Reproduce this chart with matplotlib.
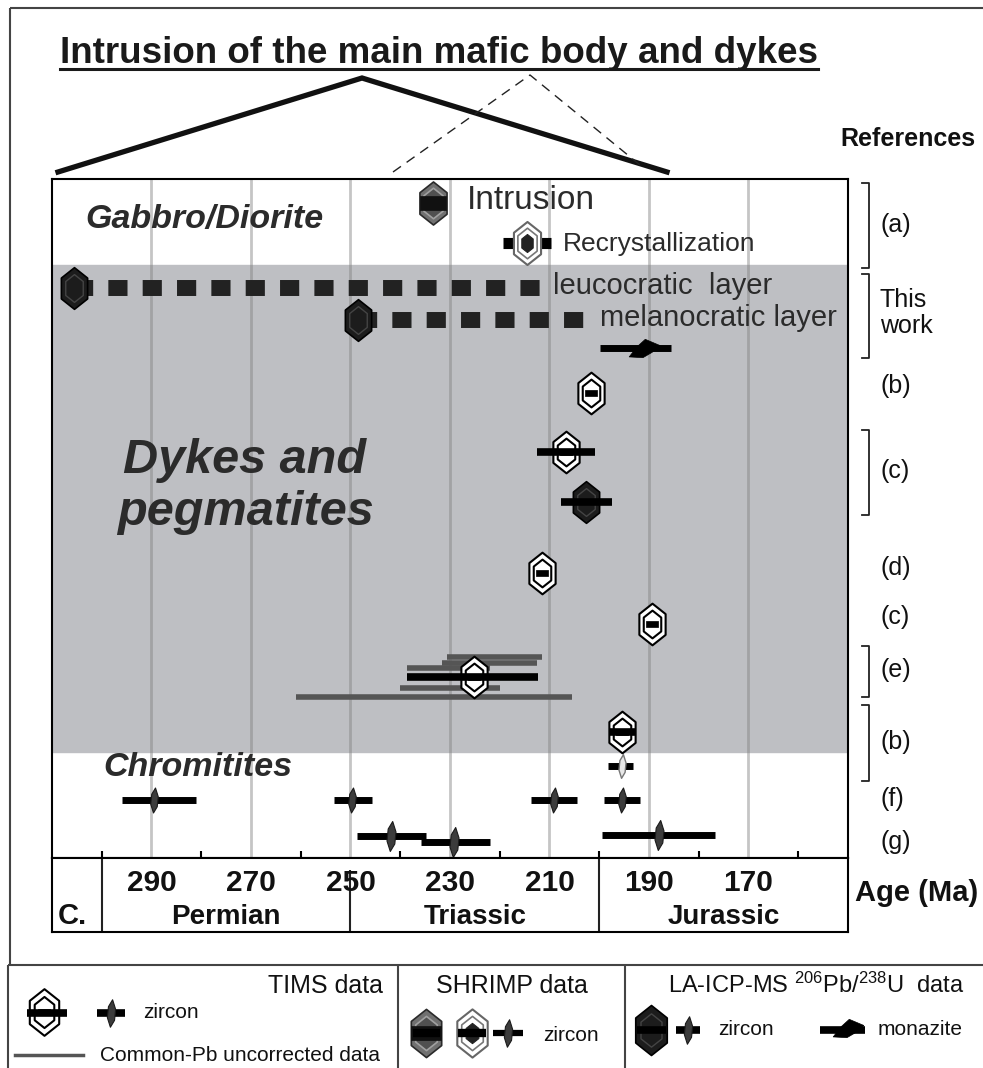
import matplotlib
matplotlib.use('Agg')
import matplotlib.pyplot as plt
from matplotlib.path import Path
import numpy as np

plt.rcParams['font.family'] = ['Liberation Sans', 'DejaVu Sans']
plt.rcParams['mathtext.default'] = 'regular'

# ---------------- data (ages in Ma) ----------------
age_ticks = [290, 270, 250, 230, 210, 190, 170]
minor_ticks = [300, 280, 260, 240, 220, 200, 180, 160]
periods = ['Permian', 'Triassic', 'Jurassic']
period_bounds = [300, 250, 200, 150]

# gabbro / diorite, SHRIMP zircon
shrimp_intrusion_age = 233.5
shrimp_recryst_age = 214.5
shrimp_recryst_range = [219.3, 209.7]

# this work, LA-ICP-MS zircon (leucocratic, melanocratic, ref c)
la_age = [305.5, 248.5, 202.7]
la_old = [np.nan, np.nan, 207.7]
la_young = [np.nan, np.nan, 197.4]
layer_labels = ['leucocratic  layer', 'melanocratic layer']

# this work, LA-ICP-MS monazite
monazite_age = 191.0
monazite_range = [199.8, 185.6]

# TIMS multi-grain zircon (b, c, d, c, e, b)
tims_age = [201.6, 206.7, 211.5, 189.4, 225.1, 195.4]
tims_old = [np.nan, 212.5, np.nan, np.nan, 238.6, 198.1]
tims_young = [np.nan, 200.8, np.nan, np.nan, 212.3, 192.8]

# TIMS common-Pb uncorrected data (e)
pb_old = [230.6, 231.6, 238.6, 240.0, 261.0]
pb_young = [211.5, 212.6, 222.0, 220.0, 205.5]

# single-grain zircon (chromitites, f, g)
sg_age = [195.4, 289.4, 249.7, 209.0, 195.4, 241.8, 229.2, 188.0]
sg_old = [198.2, 296.0, 253.3, 213.7, 199.0, 248.6, 235.8, 199.4]
sg_young = [193.2, 281.0, 245.6, 204.5, 191.8, 234.8, 221.9, 176.7]

ref_labels = ['(a)', 'This\nwork', '(b)', '(c)', '(d)', '(c)', '(e)', '(b)', '(f)', '(g)']

# ---------------- layout (pixel rows) ----------------
row_intrusion, row_recryst = 203, 243
la_row = [288, 320, 502]
row_monazite = 348
tims_row = [393, 452, 573, 624, 677, 732]
pb_row = [657, 663, 668, 688, 697]
sg_row = [766, 800, 800, 800, 800, 836, 842, 835]
sg_light = [True, False, False, False, False, False, False, False]
ref_y = [225, 313, 386, 471, 568, 617, 670, 742, 799, 842]
brackets = [(183, 268), (274, 358), (430, 515), (646, 697), (705, 781)]

W, H = 983, 1068
fig = plt.figure(figsize=(W / 100, H / 100), dpi=100)


def fig_rect(x0, y0, x1, y1):
    return [x0 / W, 1 - y1 / H, (x1 - x0) / W, (y1 - y0) / H]


HEX = Path([(0, 1), (0.63, 0.5), (0.63, -0.5), (0, -1), (-0.63, -0.5), (-0.63, 0.5), (0, 1)], closed=True)
RECT = Path([(-1, -0.5), (1, -0.5), (1, 0.5), (-1, 0.5), (-1, -0.5)], closed=True)
LENS = Path([(0.08, 1), (0.3, 0.3), (0.22, -0.5), (-0.08, -1), (-0.3, -0.3), (-0.22, 0.5), (0.08, 1)], closed=True)
MONAZ = Path([(-1, -0.55), (-0.5, 0.1), (0.05, 0.6), (1, 0.2), (0.5, -0.25), (-0.1, -0.6), (-1, -0.55)], closed=True)


def mk(a, x, y, path, ms, fc, ec, mew=1.2, z=4):
    a.plot(x, y, ls='none', marker=path, ms=ms, mfc=fc, mec=ec, mew=mew, zorder=z)


def bar(a, x0, x1, y, lw=5.5, color='black', z=5):
    a.plot([x0, x1], [y, y], color=color, lw=lw, solid_capstyle='butt', zorder=z)


def tims_marker(a, x, y, s=1.0):
    mk(a, x, y, HEX, 30 * s, 'white', 'black', 1.5)
    mk(a, x, y, HEX, 20 * s, 'white', 'black', 1.5)
    mk(a, x, y, RECT, 8 * s, 'black', 'black', 0.5)


def shrimp_dark(a, x, y, s=1.0):
    mk(a, x, y, HEX, 31 * s, '#707070', '#2a2a2a', 1.2)
    mk(a, x, y, HEX, 22 * s, '#505050', '#a0a0a0', 1.2)
    mk(a, x, y, RECT, 19 * s, '#111111', '#111111', 0.5)


def shrimp_light(a, x, y, s=1.0):
    mk(a, x, y, HEX, 31 * s, 'white', '#666666', 1.5)
    mk(a, x, y, HEX, 22 * s, 'white', '#777777', 1.2)
    mk(a, x, y, HEX, 13 * s, '#222222', '#222222', 0.8)


def la_marker(a, x, y, s=1.0):
    mk(a, x, y, HEX, 30 * s, '#1c1c1c', 'black', 1.2)
    mk(a, x, y, HEX, 20 * s, 'none', '#444444', 1.0)


def lens(a, x, y, s=1.0, light=False):
    if light:
        mk(a, x, y, LENS, 17 * s, '#e8e8e8', '#777777', 1.0, z=6)
    else:
        mk(a, x, y, LENS, 18 * s, '#3c3c3c', '#1a1a1a', 0.8, z=6)


# ---------------- main panel ----------------
ax = fig.add_axes(fig_rect(52, 179, 848, 858))
ax.set_xlim(310, 150)
ax.set_ylim(858, 179)
ax.axhspan(265, 752, color='#bebfc3', zorder=0)
for a in age_ticks:
    ax.axvline(a, color='#808080', alpha=0.45, lw=2, zorder=1)
ax.set_xticks(minor_ticks)
ax.set_yticks([])
ax.tick_params(axis='x', direction='in', length=5, width=1.5, labelbottom=False)
for sp in ax.spines.values():
    sp.set_linewidth(1.5)

# gabbro / diorite
shrimp_dark(ax, shrimp_intrusion_age, row_intrusion)
bar(ax, shrimp_recryst_range[0], shrimp_recryst_range[1], row_recryst, lw=8, z=3)
shrimp_light(ax, shrimp_recryst_age, row_recryst)

# this work: dotted connectors to the layer labels
ax.plot([la_age[0], 210.0], [la_row[0]] * 2, color='#222222', lw=11.5,
        dashes=(1.2, 0.95), dash_capstyle='butt', zorder=2)
ax.plot([la_age[1], 200.5], [la_row[1]] * 2, color='#222222', lw=11.5,
        dashes=(1.2, 0.95), dash_capstyle='butt', zorder=2)
for x, y, o, yg in zip(la_age, la_row, la_old, la_young):
    la_marker(ax, x, y)
    if not np.isnan(o):
        bar(ax, o, yg, y)

bar(ax, monazite_range[0], monazite_range[1], row_monazite, lw=5)
mk(ax, monazite_age, row_monazite, MONAZ, 22, 'black', 'black', 0.5, z=6)

# common-Pb uncorrected
for o, yg, y in zip(pb_old, pb_young, pb_row):
    bar(ax, o, yg, y, lw=4, color='#555555', z=2)

for x, y, o, yg in zip(tims_age, tims_row, tims_old, tims_young):
    tims_marker(ax, x, y)
    if not np.isnan(o):
        bar(ax, o, yg, y)

for x, y, o, yg, lt in zip(sg_age, sg_row, sg_old, sg_young, sg_light):
    bar(ax, o, yg, y, lw=5)
    lens(ax, x, y, s=1.2 if y > 820 else 1.0, light=lt)

# ---------------- age axis box ----------------
axl = fig.add_axes(fig_rect(52, 858, 848, 932))
axl.set_xlim(310, 150)
axl.set_ylim(932, 858)
axl.set_xticks([])
axl.set_yticks([])
for sp in axl.spines.values():
    sp.set_linewidth(1.5)
axl.vlines([period_bounds[0], period_bounds[2]], 858, 932, color='#222222', lw=1.5)
axl.vlines(period_bounds[1], 870, 932, color='#222222', lw=1.5)
for a in age_ticks:
    axl.text(a, 891, str(a), ha='center', va='baseline', fontsize=21.5, fontweight='bold', color='#111111')
for name, b0, b1 in zip(periods, period_bounds[:-1], period_bounds[1:]):
    axl.text((b0 + b1) / 2, 924, name, ha='center', va='baseline', fontsize=20, fontweight='bold', color='#111111')

# ---------------- overlay (pixel coordinates) ----------------
ov = fig.add_axes([0, 0, 1, 1], zorder=10)
ov.set_xlim(0, W)
ov.set_ylim(H, 0)
ov.axis('off')

frame = dict(color='#444444', lw=1.5, solid_capstyle='butt')
ov.plot([10, 10], [8, 965], **frame)
ov.plot([10, W], [8, 8], **frame)
ov.plot([8, W], [965, 965], **frame)
ov.plot([8, 8], [965, H], **frame)
ov.plot([398, 398], [965, H], **frame)
ov.plot([625, 625], [965, H], **frame)

# title with underline
ov.text(439, 63, 'Intrusion of the main mafic body and dykes', ha='center', va='baseline',
        fontsize=26.5, fontweight='bold', color='#1a1a1a')
ov.plot([60, 818], [69, 69], color='#1a1a1a', lw=2.2)

# roof lines
ov.plot([58, 362, 667], [172, 78, 172], color='#111111', lw=3.8, solid_joinstyle='miter')
ov.plot([393, 530, 640], [172, 75, 165], color='#222222', lw=1.0, dashes=(7, 5))

# labels inside the panel
txt = '#2b2b2b'
ov.text(85, 228, 'Gabbro/Diorite', fontsize=24.5, fontweight='bold', style='italic', color=txt)
ov.text(467, 209, 'Intrusion', fontsize=24, color=txt)
ov.text(563, 251, 'Recrystallization', fontsize=19, color=txt)
ov.text(553, 294, layer_labels[0], fontsize=21, color=txt)
ov.text(600, 326, layer_labels[1], fontsize=21, color=txt)
ov.text(123, 473, 'Dykes and', fontsize=35, fontweight='bold', style='italic', color=txt)
ov.text(117, 525, 'pegmatites', fontsize=35, fontweight='bold', style='italic', color=txt)
ov.text(103, 776, 'Chromitites', fontsize=24.5, fontweight='bold', style='italic', color=txt)

# references column
ov.text(840, 146, 'References', fontsize=18, fontweight='bold', color='#111111')
for lab, y in zip(ref_labels, ref_y):
    ov.text(880, y, lab, fontsize=18, va='center', color='#111111', linespacing=1.15)
for y0, y1 in brackets:
    ov.plot([862, 869, 869, 862], [y0, y0, y1, y1], color='#222222', lw=1.3)

ov.text(72, 924, 'C.', ha='center', va='baseline', fontsize=21, fontweight='bold', color='#111111')
ov.text(855, 901, 'Age (Ma)', va='baseline', fontsize=21, fontweight='bold', color='#111111')

# ---------------- legend ----------------
ov.text(383, 993, 'TIMS data', ha='right', va='baseline', fontsize=18, color='#111111')
bar(ov, 27, 67, 1013, lw=5.5, z=12)
tims_marker(ov, [44], [1012], s=1.12)
bar(ov, 97, 125, 1013, lw=5.5)
lens(ov, [111], [1013], s=1.1)
ov.text(143, 1018, 'zircon', va='baseline', fontsize=15, color='#111111')
ov.plot([15, 83], [1055, 1055], color='#555555', lw=2.5)
ov.text(100, 1061, 'Common-Pb uncorrected data', va='baseline', fontsize=15, color='#111111')

ov.text(512, 993, 'SHRIMP data', ha='center', va='baseline', fontsize=18, color='#111111')
shrimp_dark(ov, [426], [1033], s=1.12)
bar(ov, 413, 440, 1033, lw=6)
shrimp_light(ov, [472], [1033], s=1.12)
bar(ov, 458, 486, 1033, lw=6)
bar(ov, 493, 523, 1033, lw=4.5)
lens(ov, [508], [1033], s=1.1)
ov.text(543, 1041, 'zircon', va='baseline', fontsize=15, color='#111111')

ov.text(668, 993, 'LA-ICP-MS $^{206}$Pb/$^{238}$U  data', va='baseline', fontsize=17, color='#111111')
la_marker(ov, [651], [1030], s=1.2)
bar(ov, 637, 666, 1030, lw=5.5)
bar(ov, 676, 700, 1030, lw=5.5)
lens(ov, [688], [1030], s=1.1)
ov.text(718, 1035, 'zircon', va='baseline', fontsize=15, color='#111111')
bar(ov, 820, 865, 1030, lw=5.5)
mk(ov, [848], [1028], MONAZ, 22, 'black', 'black', 0.5, z=13)
ov.text(878, 1035, 'monazite', va='baseline', fontsize=15, color='#111111')

fig.savefig('out.png', dpi=100)
